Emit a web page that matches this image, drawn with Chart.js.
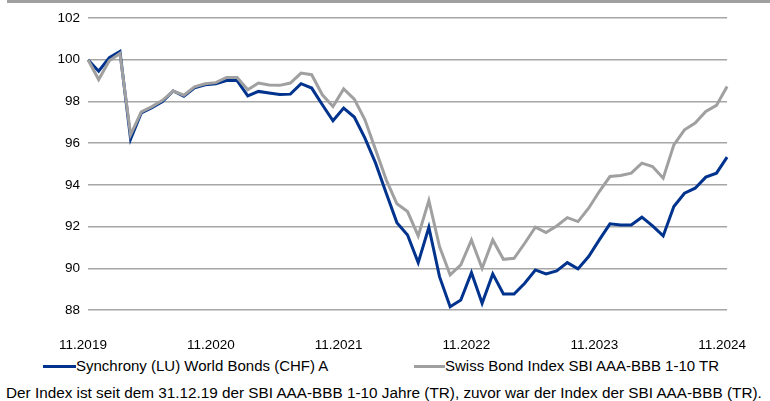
<!DOCTYPE html>
<html>
<head>
<meta charset="utf-8">
<script src="https://cdn.jsdelivr.net/npm/chart.js@4/dist/chart.umd.min.js"></script>
<style>
  body { margin: 0; background: #fff; overflow: hidden; font-family: "Liberation Sans", Arial, sans-serif; }
  #wrap { position: relative; width: 770px; height: 401px; }
  #topbar { position: absolute; left: 7px; top: 0; width: 763px; height: 3px; background: #a0a0a0; }
  #chart { position: absolute; left: 0; top: 0; }
  .leg-line { position: absolute; height: 3px; }
  .leg-text { position: absolute; font-size: 15px; color: #000; line-height: 16px; white-space: nowrap; }
  #note { position: absolute; left: 6px; top: 385px; font-size: 15.3px; line-height: 16px; color: #000; white-space: nowrap; }
</style>
</head>
<body>
<div id="wrap">
  <canvas id="chart" width="770" height="350"></canvas>
  <div id="topbar"></div>
  <div class="leg-line" style="left:43px; top:365px; width:33px; background:#00338d;"></div>
  <div class="leg-text" style="left:76px; top:358px;">Synchrony (LU) World Bonds (CHF) A</div>
  <div class="leg-line" style="left:414px; top:365px; width:31px; background:#a0a0a0;"></div>
  <div class="leg-text" style="left:445px; top:358px;">Swiss Bond Index SBI AAA-BBB 1-10 TR</div>
  <div id="note">Der Index ist seit dem 31.12.19 der SBI AAA-BBB 1-10 Jahre (TR), zuvor war der Index der SBI AAA-BBB (TR).</div>
</div>
<script>
// months, Nov 2019 .. Nov 2024
const months = [
  '11.2019', '12.2019', '01.2020', '02.2020', '03.2020', '04.2020', '05.2020', '06.2020', '07.2020', '08.2020', '09.2020', '10.2020',
  '11.2020', '12.2020', '01.2021', '02.2021', '03.2021', '04.2021', '05.2021', '06.2021', '07.2021', '08.2021', '09.2021', '10.2021',
  '11.2021', '12.2021', '01.2022', '02.2022', '03.2022', '04.2022', '05.2022', '06.2022', '07.2022', '08.2022', '09.2022', '10.2022',
  '11.2022', '12.2022', '01.2023', '02.2023', '03.2023', '04.2023', '05.2023', '06.2023', '07.2023', '08.2023', '09.2023', '10.2023',
  '11.2023', '12.2023', '01.2024', '02.2024', '03.2024', '04.2024', '05.2024', '06.2024', '07.2024', '08.2024', '09.2024', '10.2024',
  '11.2024'
];

const fundValues = [
  100.0, 99.45, 100.1, 100.4, 96.2, 97.45, 97.7, 98.0, 98.5, 98.25, 98.65, 98.8,
  98.85, 99.0, 99.0, 98.27, 98.48, 98.4, 98.33, 98.35, 98.85, 98.64, 97.84, 97.07,
  97.68, 97.25, 96.24, 95.04, 93.6, 92.19, 91.6, 90.27, 91.97, 89.6, 88.16, 88.48,
  89.79, 88.32, 89.73, 88.77, 88.77, 89.28, 89.92, 89.73, 89.87, 90.27, 89.97, 90.56,
  91.36, 92.13, 92.08, 92.08, 92.45, 92.03, 91.55, 92.96, 93.6, 93.84, 94.37, 94.56,
  95.33
];

const indexValues = [
  100.0, 99.05, 99.95, 100.3, 96.4, 97.5, 97.75, 98.05, 98.5, 98.3, 98.7, 98.85,
  98.9, 99.15, 99.15, 98.56, 98.88, 98.79, 98.77, 98.88, 99.36, 99.28, 98.32, 97.76,
  98.6, 98.11, 97.12, 95.68, 94.24, 93.09, 92.72, 91.55, 93.25, 91.04, 89.68, 90.16,
  91.36, 90.0, 91.36, 90.43, 90.48, 91.2, 91.97, 91.71, 92.03, 92.43, 92.24, 92.88,
  93.68, 94.4, 94.45, 94.56, 95.04, 94.88, 94.32, 95.92, 96.64, 96.96, 97.52, 97.81,
  98.72
];

const yTicks = [88, 90, 92, 94, 96, 98, 100, 102];

const ctx = document.getElementById('chart').getContext('2d');
new Chart(ctx, {
  type: 'line',
  data: {
    labels: months,
    datasets: [
      {
        label: 'Synchrony (LU) World Bonds (CHF) A',
        data: fundValues,
        borderColor: '#00338d',
        borderWidth: 3,
        pointRadius: 0,
        tension: 0,
        order: 2
      },
      {
        label: 'Swiss Bond Index SBI AAA-BBB 1-10 TR',
        data: indexValues,
        borderColor: '#a0a0a0',
        borderWidth: 3,
        pointRadius: 0,
        tension: 0,
        order: 1
      }
    ]
  },
  options: {
    responsive: false,
    animation: false,
    devicePixelRatio: 1,
    layout: { padding: { top: 18, right: 32, left: 0, bottom: 0 } },
    plugins: { legend: { display: false }, tooltip: { enabled: false } },
    scales: {
      x: {
        offset: false,
        grid: { display: false },
        border: { display: false },
        ticks: {
          autoSkip: false,
          maxRotation: 0,
          minRotation: 0,
          padding: 19,
          labelOffset: -5,
          color: '#000',
          font: { family: 'Liberation Sans', size: 13.5 },
          callback: function (val, i) { return i % 12 === 0 ? months[i] : ''; }
        },
        afterFit: function (scale) { scale.height = 40; }
      },
      y: {
        min: yTicks[0],
        max: yTicks[yTicks.length - 1],
        grid: { color: '#a6a6a6', lineWidth: 1.5, drawTicks: false },
        border: { display: false },
        afterBuildTicks: function (scale) { scale.ticks = yTicks.map(v => ({ value: v })); },
        ticks: {
          padding: 8,
          color: '#000',
          font: { family: 'Liberation Sans', size: 13.5 }
        },
        afterFit: function (scale) { scale.width = 88; }
      }
    }
  }
});
</script>
</body>
</html>
